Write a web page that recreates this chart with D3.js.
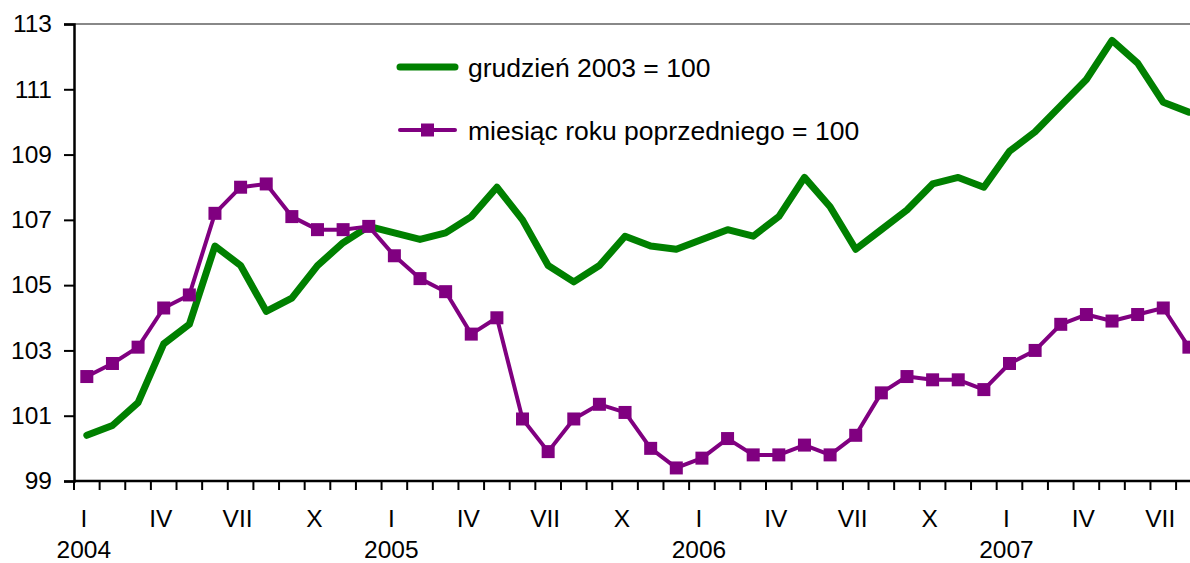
<!DOCTYPE html>
<html>
<head>
<meta charset="utf-8">
<script src="https://cdn.jsdelivr.net/npm/d3@7"></script>
<style>
  body { margin: 0; background: #fff; }
  svg { display: block; font-family: "Liberation Sans", Arial, sans-serif; }
</style>
</head>
<body>
<script>
// months Jan 2004 - Aug 2007
var months = ["I","II","III","IV","V","VI","VII","VIII","IX","X","XI","XII"];
var years = [2004, 2005, 2006, 2007];
var periods = [];
years.forEach(function(y){ months.forEach(function(m){ periods.push(m + " " + y); }); });
periods = periods.slice(0, 44);

var dec2003 = [100.4,100.7,101.4,103.2,103.8,106.2,105.6,104.2,104.6,105.6,106.3,106.8,
               106.6,106.4,106.6,107.1,108.0,107.0,105.6,105.1,105.6,106.5,106.2,106.1,
               106.4,106.7,106.5,107.1,108.3,107.4,106.1,106.7,107.3,108.1,108.3,108.0,
               109.1,109.7,110.5,111.3,112.5,111.8,110.6,110.3];

var prevYear = [102.2,102.6,103.1,104.3,104.7,107.2,108.0,108.1,107.1,106.7,106.7,106.8,
                105.9,105.2,104.8,103.5,104.0,100.9,99.9,100.9,101.35,101.1,100.0,99.4,
                99.7,100.3,99.8,99.8,100.1,99.8,100.4,101.7,102.2,102.1,102.1,101.8,
                102.6,103.0,103.8,104.1,103.9,104.1,104.3,103.1];

var yTicks = [99, 101, 103, 105, 107, 109, 111, 113];
var tickMonths = ["I","IV","VII","X"];
var seriesNames = ["grudzień 2003 = 100", "miesiąc roku poprzedniego = 100"];

var W = 1190, H = 563;
var margin = {left: 74, top: 24, bottom: 481};
var axisFont = 24.5, legendFont = 26.5;

var svg = d3.select("body").append("svg").attr("width", W).attr("height", H);

var x = d3.scaleBand().domain(periods).range([margin.left, margin.left + 44 * 25.63]);
var y = d3.scaleLinear().domain([99, 113]).range([margin.bottom, margin.top]);

// top line
svg.append("line").attr("x1", margin.left).attr("x2", W).attr("y1", y(113)).attr("y2", y(113))
   .attr("stroke", "#888").attr("stroke-width", 2);

// y axis
var yAxis = svg.append("g").attr("transform", "translate(" + margin.left + ",0)")
   .call(d3.axisLeft(y).tickValues(yTicks).tickSize(10).tickPadding(12));
yAxis.select(".domain").attr("stroke", "#000").attr("stroke-width", 2.5);
yAxis.selectAll(".tick line").attr("stroke", "#000").attr("stroke-width", 2);
yAxis.selectAll("text").attr("font-size", axisFont).attr("fill", "#000")
   .attr("font-family", "Liberation Sans, Arial, sans-serif");

// x axis: ticks between categories
var xg = svg.append("g").attr("transform", "translate(0," + margin.bottom + ")");
xg.append("line").attr("x1", margin.left).attr("x2", W).attr("stroke", "#000").attr("stroke-width", 2.5);
xg.selectAll(".xt").data(periods).enter().append("line")
   .attr("x1", function(d){ return x(d); }).attr("x2", function(d){ return x(d); })
   .attr("y1", 0).attr("y2", 9).attr("stroke", "#000").attr("stroke-width", 2);

var labelled = periods.filter(function(p){ return tickMonths.indexOf(p.split(" ")[0]) >= 0; });
xg.selectAll(".ml").data(labelled).enter().append("text")
   .attr("x", function(d){ return x(d) + x.bandwidth() / 2 - 3; })
   .attr("y", 46).attr("text-anchor", "middle").attr("font-size", axisFont)
   .text(function(d){ return d.split(" ")[0]; });
xg.selectAll(".yl").data(periods.filter(function(p){ return p.split(" ")[0] === "I"; })).enter().append("text")
   .attr("x", function(d){ return x(d) + x.bandwidth() / 2 - 3; })
   .attr("y", 77).attr("text-anchor", "middle").attr("font-size", axisFont)
   .text(function(d){ return d.split(" ")[1]; });

var cx = function(d, i){ return x(periods[i]) + x.bandwidth() / 2; };

var line = d3.line().x(cx).y(function(d){ return y(d); });

svg.append("path").datum(dec2003).attr("d", line)
   .attr("fill", "none").attr("stroke", "#008000").attr("stroke-width", 7)
   .attr("stroke-linejoin", "round").attr("stroke-linecap", "round");

svg.append("path").datum(prevYear).attr("d", line)
   .attr("fill", "none").attr("stroke", "#800080").attr("stroke-width", 4)
   .attr("stroke-linejoin", "round");

svg.selectAll(".mk").data(prevYear).enter().append("rect")
   .attr("x", function(d, i){ return cx(d, i) - 6.5; })
   .attr("y", function(d){ return y(d) - 6.5; })
   .attr("width", 13).attr("height", 13).attr("fill", "#800080");

// legend
var lg = svg.append("g");
lg.append("line").attr("x1", 400).attr("x2", 455).attr("y1", 67).attr("y2", 67)
  .attr("stroke", "#008000").attr("stroke-width", 7).attr("stroke-linecap", "round");
lg.append("text").attr("x", 468).attr("y", 77).attr("font-size", legendFont).text(seriesNames[0]);
lg.append("line").attr("x1", 400).attr("x2", 455).attr("y1", 130).attr("y2", 130)
  .attr("stroke", "#800080").attr("stroke-width", 4).attr("stroke-linecap", "round");
lg.append("rect").attr("x", 421).attr("y", 123.5).attr("width", 13).attr("height", 13).attr("fill", "#800080");
lg.append("text").attr("x", 468).attr("y", 140).attr("font-size", legendFont).text(seriesNames[1]);
</script>
</body>
</html>
